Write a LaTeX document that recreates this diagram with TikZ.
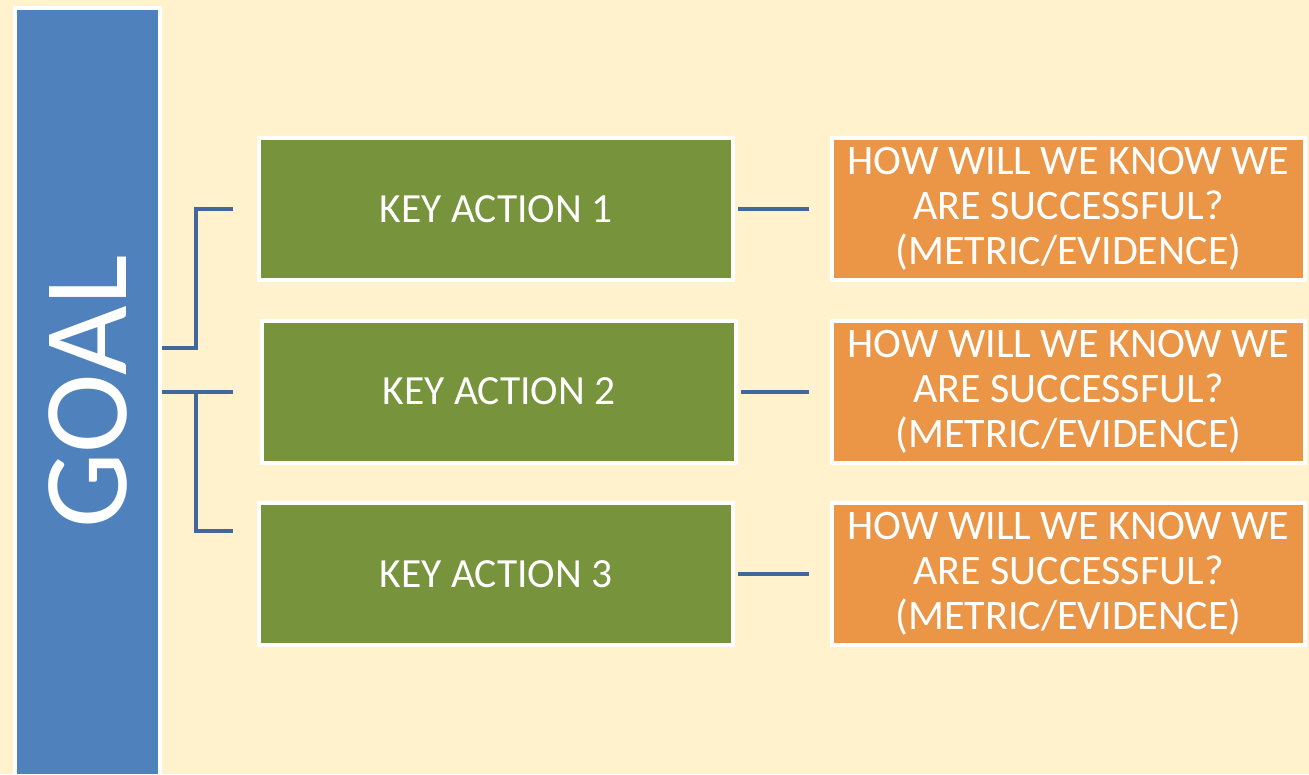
\documentclass[tikz,border=0pt]{standalone}
\usepackage{fontspec}
\setmainfont{Carlito}
\usetikzlibrary{positioning}
\definecolor{paper}{HTML}{FFF2CC}
\definecolor{goalblue}{HTML}{4F81BD}
\definecolor{actgreen}{HTML}{77933C}
\definecolor{metorange}{HTML}{EB9647}
\definecolor{linkblue}{HTML}{41679C}

\begin{document}
\begin{tikzpicture}[x=1pt,y=-1pt,
  box/.style={rectangle,draw=white,line width=4pt,text=white,align=center},
  goalbar/.style={box,fill=goalblue,minimum width=145pt,minimum height=768pt,font=\fontsize{120}{120}\selectfont},
  action/.style={box,fill=actgreen,minimum width=474pt,minimum height=142pt,font=\fontsize{41.5}{45}\selectfont},
  metric/.style={box,fill=metorange,minimum width=473pt,minimum height=142pt,font=\fontsize{42}{45}\selectfont},
  link/.style={draw=linkblue,line width=4pt}]
\useasboundingbox (0,0) rectangle (1309,774);
\fill[paper] (0,0) rectangle (1309,774);
\clip (0,0) rectangle (1309,774);
\node [goalbar] (goal) at (87.5,392) {\rotatebox{90}{GOAL}};
\node [action] (ka1) at (496,209) {KEY ACTION 1};
\node [action] (ka2) at (499,391.5) {KEY ACTION 2};
\node [action] (ka3) at (496,574) {KEY ACTION 3};
\node [metric,right=95pt of ka1] (m1) {HOW WILL WE KNOW WE\\ARE SUCCESSFUL?\\(METRIC/EVIDENCE)};
\node [metric,right=92pt of ka2] (m2) {HOW WILL WE KNOW WE\\ARE SUCCESSFUL?\\(METRIC/EVIDENCE)};
\node [metric,right=95pt of ka3] (m3) {HOW WILL WE KNOW WE\\ARE SUCCESSFUL?\\(METRIC/EVIDENCE)};
\coordinate (fork) at (196,391.5);
% brackets from the goal
\draw [link] (goal.east |- 0,348) -| (196,209) -- ([xshift=-24pt]ka1.west);
\draw [link] (goal.east |- ka2.west) -- ([xshift=-27pt]ka2.west);
\draw [link] (fork) |- (233,531);
% actions to metrics
\foreach \i in {1,2,3}
  \draw [link,shorten <=3pt,shorten >=21pt] (ka\i.east) -- (m\i.west);
\end{tikzpicture}
\end{document}
